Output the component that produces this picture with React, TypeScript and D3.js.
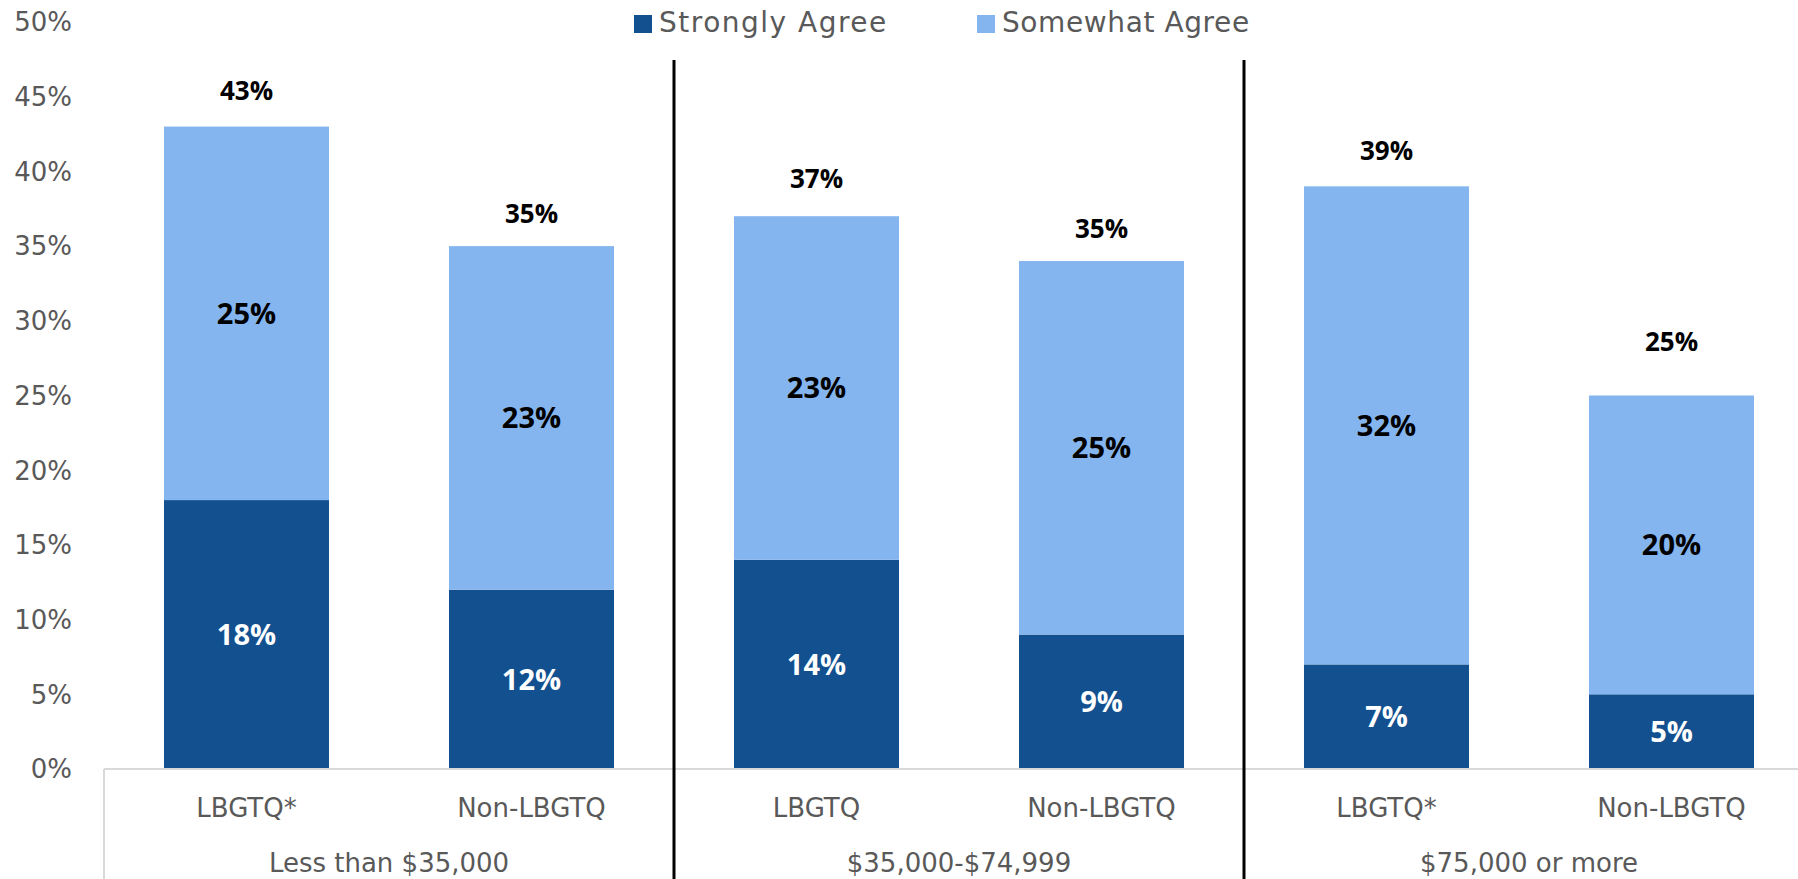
import React from "react";
import * as d3 from "d3";

const groups = ["Less than $35,000", "$35,000-$74,999", "$75,000 or more"];
const categories = ["LBGTQ*", "Non-LBGTQ", "LBGTQ", "Non-LBGTQ", "LBGTQ*", "Non-LBGTQ"];
const groupOf = [0, 0, 1, 1, 2, 2];
const stronglyAgree = [18, 12, 14, 9, 7, 5];
const somewhatAgree = [25, 23, 23, 25, 32, 20];
const totalLabels = ["43%", "35%", "37%", "35%", "39%", "25%"];
// invisible "total" marker series that anchors the total labels (value units)
const totalMarkerValues = [45.4, 37.2, 39.5, 36.2, 41.4, 28.6];
const yTicks = [0, 5, 10, 15, 20, 25, 30, 35, 40, 45, 50];
const seriesNames = ["Strongly Agree", "Somewhat Agree"];

const W = 1798;
const H = 879;
const DARK = "#12508f";
const LIGHT = "#84b5ee";
const GRAY = "#595959";
const AXIS = "#d9d9d9";
const FONT = "'Century Gothic', 'DejaVu Sans', sans-serif";
const BOLD = "'Open Sans', 'Liberation Sans', sans-serif";

export default function App() {
  const idx = categories.map((_, i) => i);
  const x = d3
    .scaleBand<number>()
    .domain(idx)
    .range([104, 1814])
    .paddingInner(0.421)
    .paddingOuter(0.2105);
  const y = d3.scaleLinear().domain([0, 50]).range([769, 22]);
  const step = x.step();
  const left = 104;
  const stack = d3
    .stack<number>()
    .keys(["s", "w"])
    .value((i, k) => (k === "s" ? stronglyAgree[i] : somewhatAgree[i]))(idx);
  const colors = [DARK, LIGHT];

  const groupCenter = (g: number) => {
    const members = idx.filter((i) => groupOf[i] === g);
    const a = x(members[0])! - (step - x.bandwidth()) / 2;
    const b = x(members[members.length - 1])! + x.bandwidth() + (step - x.bandwidth()) / 2;
    return (a + b) / 2;
  };
  const dividers = [1, 2].map((g) => {
    const first = idx.find((i) => groupOf[i] === g)!;
    return x(first)! - (step - x.bandwidth()) / 2;
  });

  const legendX = [634, 977];
  const legendSpacing = [1.5, 0.6];

  return (
    <svg
      width={W}
      height={H}
      style={{ position: "absolute", left: 0, top: 0, background: "#fff" }}
    >
      {/* y tick labels */}
      {yTicks.map((t) => (
        <text
          key={t}
          x={72}
          y={y(t)}
          dy="0.36em"
          textAnchor="end"
          fontFamily={FONT}
          fontSize={26}
          fill={GRAY}
        >
          {t}%
        </text>
      ))}

      {/* bars */}
      {stack.map((layer, li) =>
        layer.map((d, i) => (
          <rect
            key={`${li}-${i}`}
            x={x(i)}
            y={y(d[1])}
            width={x.bandwidth()}
            height={y(d[0]) - y(d[1])}
            fill={colors[li]}
          />
        ))
      )}

      {/* segment labels */}
      {stack.map((layer, li) =>
        layer.map((d, i) => (
          <text
            key={`l${li}-${i}`}
            x={x(i)! + x.bandwidth() / 2}
            y={y((d[0] + d[1]) / 2)}
            dy="0.36em"
            textAnchor="middle"
            fontFamily={BOLD}
            fontWeight={700}
            fontSize={29}
            fill={li === 0 ? "#ffffff" : "#000000"}
          >
            {(li === 0 ? stronglyAgree[i] : somewhatAgree[i]) + "%"}
          </text>
        ))
      )}

      {/* total labels */}
      {idx.map((i) => (
        <text
          key={`t${i}`}
          x={x(i)! + x.bandwidth() / 2}
          y={y(totalMarkerValues[i])}
          dy="0.36em"
          textAnchor="middle"
          fontFamily={BOLD}
          fontWeight={700}
          fontSize={26}
          fill="#000"
        >
          {totalLabels[i]}
        </text>
      ))}

      {/* axis lines */}
      <line x1={left} x2={W} y1={y(0)} y2={y(0)} stroke={AXIS} strokeWidth={2} />
      <line x1={left} x2={left} y1={y(0)} y2={H} stroke={AXIS} strokeWidth={2} />

      {/* group dividers */}
      {dividers.map((dx, k) => (
        <line key={`d${k}`} x1={dx} x2={dx} y1={60} y2={H} stroke="#000" strokeWidth={3} />
      ))}

      {/* category labels */}
      {idx.map((i) => (
        <text
          key={`c${i}`}
          x={x(i)! + x.bandwidth() / 2}
          y={817}
          textAnchor="middle"
          fontFamily={FONT}
          fontSize={26}
          fill={GRAY}
        >
          {categories[i]}
        </text>
      ))}
      {groups.map((g, k) => (
        <text
          key={`g${k}`}
          x={groupCenter(k)}
          y={872}
          textAnchor="middle"
          fontFamily={FONT}
          fontSize={26}
          fill={GRAY}
        >
          {g}
        </text>
      ))}

      {/* legend */}
      {seriesNames.map((s, k) => (
        <g key={s}>
          <rect x={legendX[k]} y={15} width={18} height={18} fill={colors[k]} />
          <text
            x={legendX[k] + 25}
            y={32}
            fontFamily={FONT}
            fontSize={28}
            letterSpacing={legendSpacing[k]}
            fill={GRAY}
          >
            {s}
          </text>
        </g>
      ))}
    </svg>
  );
}
